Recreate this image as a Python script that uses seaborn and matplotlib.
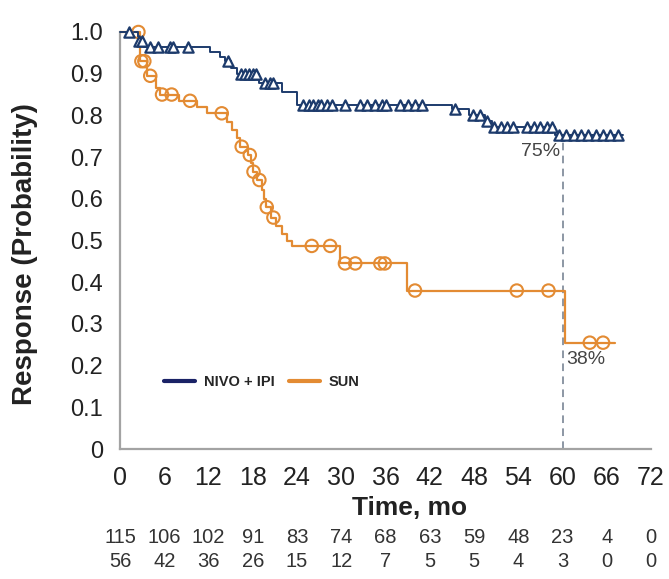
import numpy as np
import pandas as pd
import matplotlib
matplotlib.use("Agg")
import matplotlib.pyplot as plt
import seaborn as sns

# ---------------- data ----------------
nivo_step_t = [0, 2.4, 3.3, 12.2, 13.6, 14.3, 15.1, 15.8, 18.9, 21.9, 24.0, 45.0, 47.3, 49.5, 50.5, 59.0]
nivo_step_s = [1.0, 0.978, 0.965, 0.953, 0.941, 0.93, 0.914, 0.90, 0.877, 0.857, 0.826, 0.815, 0.80, 0.787, 0.773, 0.752]
nivo_end = 68.2
nivo_censor_t = [1.2, 2.6, 3.0, 4.1, 5.2, 6.8, 7.2, 9.2, 14.7, 16.4, 17.0, 17.5, 18.0, 18.5, 19.6, 20.3,
                 20.8, 24.8, 25.6, 26.2, 26.8, 27.2, 28.0, 28.8, 30.5, 32.5, 33.5, 34.6, 35.5, 36.0, 38.0,
                 39.0, 40.0, 41.0, 45.4, 47.9, 48.8, 49.8, 50.7, 51.6, 52.5, 53.3, 55.2, 56.1, 57.0, 57.9,
                 58.6, 59.5, 60.5, 61.5, 62.5, 63.5, 64.5, 65.5, 66.5, 67.5]

sun_step_t = [0, 2.7, 3.7, 4.9, 5.4, 8.0, 10.5, 11.8, 14.5, 15.2, 15.8, 16.3, 17.3, 17.8, 18.0, 18.6,
              19.2, 19.5, 19.8, 20.5, 21.2, 21.9, 22.6, 23.3, 29.8, 38.9, 60.3]
sun_step_s = [1.0, 0.93, 0.895, 0.865, 0.85, 0.835, 0.82, 0.805, 0.785, 0.765, 0.745, 0.725, 0.705, 0.685,
              0.665, 0.645, 0.62, 0.60, 0.58, 0.555, 0.535, 0.515, 0.50, 0.487, 0.445, 0.38, 0.255]
sun_end = 67.1
sun_censor_t = [2.5, 2.9, 3.3, 4.1, 5.7, 7.0, 9.5, 13.8, 16.5, 17.6, 18.1, 18.9, 19.9, 20.8, 26.0, 28.5,
                30.5, 31.9, 35.3, 35.9, 40.0, 53.8, 58.1, 63.7, 65.5]

x_ticks = [0, 6, 12, 18, 24, 30, 36, 42, 48, 54, 60, 66, 72]
y_ticks = [0, 0.1, 0.2, 0.3, 0.4, 0.5, 0.6, 0.7, 0.8, 0.9, 1.0]
y_tick_labels = ["0", "0.1", "0.2", "0.3", "0.4", "0.5", "0.6", "0.7", "0.8", "0.9", "1.0"]
risk_nivo = [115, 106, 102, 91, 83, 74, 68, 63, 59, 48, 23, 4, 0]
risk_sun = [56, 42, 36, 26, 15, 12, 7, 5, 5, 4, 3, 0, 0]
label_nivo = "NIVO + IPI"
label_sun = "SUN"
landmark_t = 60
landmark_nivo_text = "75%"
landmark_sun_text = "38%"

# ---------------- style ----------------
sns.set_theme(style="white")
plt.rcParams["font.family"] = ["Liberation Sans", "DejaVu Sans"]

NAVY = "#1d3b6c"
NAVY_LEG = "#1a2266"
ORANGE = "#e38b33"
GREY = "#a3a3a3"
TEXT = "#222222"


def step_value(step_t, step_s, t):
    idx = np.searchsorted(np.asarray(step_t), np.asarray(t), side="right") - 1
    return np.asarray(step_s)[idx]


nivo_df = pd.DataFrame({"t": nivo_step_t + [nivo_end], "s": nivo_step_s + [nivo_step_s[-1]]})
sun_df = pd.DataFrame({"t": sun_step_t + [sun_end], "s": sun_step_s + [sun_step_s[-1]]})
nivo_c = pd.DataFrame({"t": nivo_censor_t, "s": step_value(nivo_step_t, nivo_step_s, nivo_censor_t)})
sun_c = pd.DataFrame({"t": sun_censor_t, "s": step_value(sun_step_t, sun_step_s, sun_censor_t)})

fig = plt.figure(figsize=(6.69, 5.79), dpi=100)
ax = fig.add_axes([120 / 669, 130 / 579, 531 / 669, 417 / 579])

# landmark dashed line
ax.plot([landmark_t, landmark_t], [0, 0.737], ls=(0, (5, 3.5)), color="#6d7a8c", lw=1.1, zorder=1)

sns.lineplot(data=sun_df, x="t", y="s", drawstyle="steps-post", estimator=None, sort=False,
             color=ORANGE, linewidth=1.6, label=label_sun, ax=ax, zorder=2)
sns.lineplot(data=nivo_df, x="t", y="s", drawstyle="steps-post", estimator=None, sort=False,
             color=NAVY, linewidth=1.4, label=label_nivo, ax=ax, zorder=3)
sns.scatterplot(data=sun_c, x="t", y="s", marker="o", s=80, facecolor="none", edgecolor=ORANGE,
                linewidth=1.5, ax=ax, zorder=4, clip_on=False)
sns.scatterplot(data=nivo_c, x="t", y="s", marker="^", s=55, facecolor="white", edgecolor=NAVY,
                linewidth=1.6, ax=ax, zorder=5, clip_on=False)

for ln in ax.lines:
    ln.set_clip_on(False)

ax.set_xlim(0, 72)
ax.set_ylim(0, 1.0)
ax.set_xticks(x_ticks)
ax.set_xticklabels([str(v) for v in x_ticks])
ax.set_yticks(y_ticks)
ax.set_yticklabels(y_tick_labels)
ax.tick_params(axis="both", direction="out", length=7, width=1.1, color=GREY, colors=TEXT)
ax.tick_params(axis="x", labelsize=18, pad=5)
ax.tick_params(axis="y", labelsize=17, pad=5)
for side in ["top", "right"]:
    ax.spines[side].set_visible(False)
for side in ["left", "bottom"]:
    ax.spines[side].set_color(GREY)
    ax.spines[side].set_linewidth(1.6)

ax.set_ylabel("Response (Probability)", fontsize=20, fontweight="bold", color=TEXT)
ax.yaxis.set_label_coords(-0.155, 0.468)
ax.set_xlabel("Time, mo", fontsize=19, fontweight="bold", color=TEXT)
ax.xaxis.set_label_coords(0.546, -0.142)
ax.xaxis.label.set_va("center")

# landmark annotations
ax.text(landmark_t - 0.3, 0.734, landmark_nivo_text, ha="right", va="top", fontsize=14, color="#444444")
ax.text(landmark_t + 0.5, 0.236, landmark_sun_text, ha="left", va="top", fontsize=14, color="#444444")

# numbers at risk
for xv, a, b in zip(x_ticks, risk_nivo, risk_sun):
    ax.text(xv, -0.212, str(a), ha="center", va="center", fontsize=14.5, color="#333333",
            transform=ax.get_xaxis_transform(), clip_on=False)
    ax.text(xv, -0.27, str(b), ha="center", va="center", fontsize=14.5, color="#333333",
            transform=ax.get_xaxis_transform(), clip_on=False)

# legend
handles, labels = ax.get_legend_handles_labels()
order = [labels.index(label_nivo), labels.index(label_sun)]
leg = ax.legend([handles[i] for i in order], [labels[i] for i in order], ncol=2, frameon=False,
                loc="center left", bbox_to_anchor=(0.07, 0.16), borderpad=0, handlelength=2.1,
                handletextpad=0.6, columnspacing=1.0,
                prop={"size": 10.5, "weight": "bold"})
for h, c in zip(leg.legend_handles, [NAVY_LEG, ORANGE]):
    h.set_linewidth(3)
    h.set_color(c)

fig.savefig("out.png", dpi=100, facecolor="white")
